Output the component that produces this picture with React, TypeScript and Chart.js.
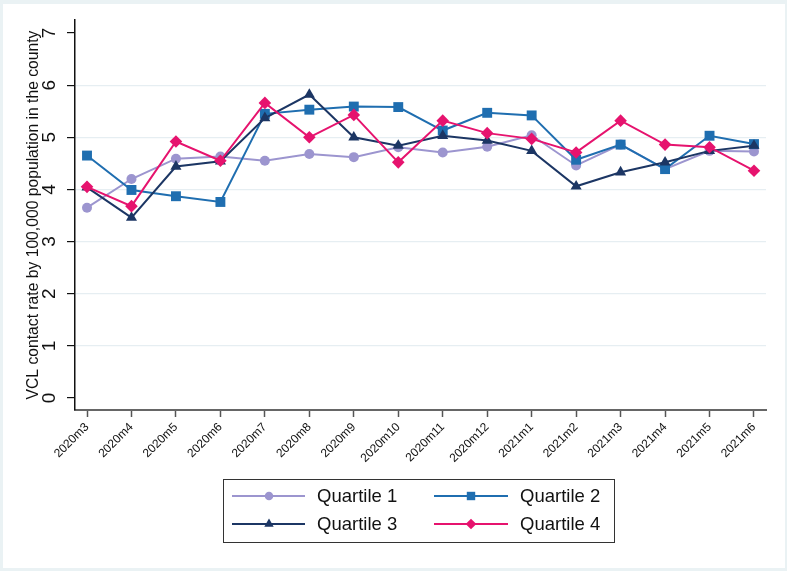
import React, { useEffect, useRef } from "react";
import { Chart, registerables } from "chart.js";

Chart.register(...registerables);

const months = [
  "2020m3", "2020m4", "2020m5", "2020m6", "2020m7", "2020m8", "2020m9", "2020m10",
  "2020m11", "2020m12", "2021m1", "2021m2", "2021m3", "2021m4", "2021m5", "2021m6",
];
const quartile1 = [3.65, 4.2, 4.59, 4.63, 4.55, 4.68, 4.62, 4.81, 4.71, 4.82, 5.04, 4.46, 4.86, 4.39, 4.74, 4.73];
const quartile2 = [4.65, 3.99, 3.87, 3.76, 5.45, 5.53, 5.59, 5.58, 5.13, 5.47, 5.42, 4.57, 4.86, 4.39, 5.03, 4.87];
const quartile3 = [4.04, 3.46, 4.44, 4.54, 5.37, 5.82, 5.0, 4.84, 5.03, 4.94, 4.74, 4.06, 4.33, 4.52, 4.74, 4.84];
const quartile4 = [4.05, 3.68, 4.92, 4.55, 5.66, 5.0, 5.43, 4.52, 5.32, 5.08, 4.97, 4.71, 5.32, 4.86, 4.81, 4.36];
const yTicks = [0, 1, 2, 3, 4, 5, 6, 7];
const seriesNames = ["Quartile 1", "Quartile 2", "Quartile 3", "Quartile 4"];
const yTitle = "VCL contact rate by 100,000 population in the county";

const COLORS = ["#9c95cf", "#1f6eb0", "#1c3664", "#e6136e"];
const SHAPES = ["circle", "rect", "triangle", "rectRot"];
const RADII = [5, 7, 6.4, 6.3];
const FONT = '"Liberation Sans", Arial, Helvetica, sans-serif';

function drawMarker(ctx: CanvasRenderingContext2D, shape: string, x: number, y: number, r: number, color: string) {
  ctx.save();
  ctx.fillStyle = color;
  ctx.beginPath();
  if (shape === "circle") {
    ctx.arc(x, y, r, 0, Math.PI * 2);
  } else if (shape === "rect") {
    const s = r * Math.SQRT1_2;
    ctx.rect(x - s, y - s, 2 * s, 2 * s);
  } else if (shape === "triangle") {
    for (let k = 0; k < 3; k++) {
      const a = (k * 2 * Math.PI) / 3;
      const px = x + Math.sin(a) * r;
      const py = y - Math.cos(a) * r;
      if (k === 0) ctx.moveTo(px, py);
      else ctx.lineTo(px, py);
    }
    ctx.closePath();
  } else {
    ctx.moveTo(x - r, y);
    ctx.lineTo(x, y - r);
    ctx.lineTo(x + r, y);
    ctx.lineTo(x, y + r);
    ctx.closePath();
  }
  ctx.fill();
  ctx.restore();
}

const decorPlugin = {
  id: "decor",
  beforeDraw(chart: any) {
    const ctx = chart.ctx as CanvasRenderingContext2D;
    ctx.save();
    ctx.fillStyle = "#eaf2f4";
    ctx.fillRect(0, 0, chart.width, chart.height);
    ctx.fillStyle = "#ffffff";
    ctx.fillRect(3, 4, 782, 564);
    ctx.restore();
  },
  afterDraw(chart: any) {
    const ctx = chart.ctx as CanvasRenderingContext2D;
    const yScale = chart.scales.y;
    const area = chart.chartArea;
    ctx.save();
    ctx.fillStyle = "#111";
    ctx.textAlign = "center";
    ctx.textBaseline = "middle";
    // y tick labels, rotated
    ctx.font = `19px ${FONT}`;
    for (const v of yTicks) {
      const py = yScale.getPixelForValue(v);
      ctx.save();
      ctx.translate(50, py);
      ctx.rotate(-Math.PI / 2);
      ctx.fillText(String(v), 0, 0);
      ctx.restore();
    }
    // y title
    ctx.font = `15.7px ${FONT}`;
    ctx.save();
    ctx.translate(34, (area.top + area.bottom) / 2);
    ctx.rotate(-Math.PI / 2);
    ctx.fillText(yTitle, 0, 0);
    ctx.restore();

    // legend
    ctx.strokeStyle = "#333";
    ctx.lineWidth = 1;
    ctx.strokeRect(223.5, 479.5, 391, 63);
    const cols = [
      { lx0: 232, lx1: 305, mx: 269, tx: 317 },
      { lx0: 434, lx1: 508, mx: 471, tx: 520 },
    ];
    const rows = [496, 524];
    ctx.font = `18.5px ${FONT}`;
    ctx.textAlign = "left";
    for (let i = 0; i < 4; i++) {
      const c = cols[i % 2];
      const y = rows[Math.floor(i / 2)];
      ctx.strokeStyle = COLORS[i];
      ctx.lineWidth = 1.8;
      ctx.beginPath();
      ctx.moveTo(c.lx0, y);
      ctx.lineTo(c.lx1, y);
      ctx.stroke();
      drawMarker(ctx, SHAPES[i], c.mx, y, RADII[i] * 0.85, COLORS[i]);
      ctx.fillStyle = "#111";
      ctx.fillText(seriesNames[i], c.tx, y + 1);
    }
    ctx.restore();
  },
};

export default function App() {
  const canvasRef = useRef<HTMLCanvasElement | null>(null);

  useEffect(() => {
    const canvas = canvasRef.current;
    if (!canvas) return;
    const series = [quartile1, quartile2, quartile3, quartile4];
    const chart = new Chart(canvas, {
      type: "line",
      data: {
        datasets: series.map((vals, i) => ({
          label: seriesNames[i],
          data: vals.map((y, x) => ({ x, y })),
          borderColor: COLORS[i],
          backgroundColor: COLORS[i],
          borderWidth: 2,
          pointStyle: SHAPES[i] as any,
          pointRadius: RADII[i],
          pointBorderWidth: 0,
          pointBackgroundColor: COLORS[i],
          pointBorderColor: COLORS[i],
          tension: 0,
          fill: false,
          order: 4 - i,
        })),
      },
      options: {
        responsive: false,
        animation: false,
        events: [],
        layout: { autoPadding: false, padding: { top: 20, right: 21, left: 0, bottom: 0 } },
        plugins: { legend: { display: false }, tooltip: { enabled: false } },
        scales: {
          x: {
            type: "linear",
            min: -0.27,
            max: 15.27,
            afterBuildTicks: (scale: any) => {
              scale.ticks = months.map((_, i) => ({ value: i }));
            },
            afterFit: (scale: any) => {
              scale.height = 161;
            },
            ticks: {
              autoSkip: false,
              minRotation: 45,
              maxRotation: 45,
              padding: 3,
              color: "#111",
              font: { family: FONT, size: 12 },
              callback: (v: any) => months[Math.round(Number(v))] ?? "",
            },
            grid: {
              drawOnChartArea: false,
              drawTicks: true,
              tickLength: 7,
              tickColor: "#555",
              tickWidth: 1.5,
            },
            border: { color: "#666", width: 2 },
          },
          y: {
            type: "linear",
            min: -0.23,
            max: 7.25,
            afterBuildTicks: (scale: any) => {
              scale.ticks = yTicks.map((v) => ({ value: v }));
            },
            afterFit: (scale: any) => {
              scale.width = 75;
            },
            ticks: { display: false },
            grid: {
              color: (c: any) => {
                const v = c.tick ? c.tick.value : null;
                return v === 0 || v === 7 ? "rgba(0,0,0,0)" : "#e6eef2";
              },
              lineWidth: 1.2,
              drawTicks: true,
              tickLength: 8,
              tickColor: "#111",
              tickWidth: 1.2,
            },
            border: { color: "#111", width: 1.5 },
          },
        },
      },
      plugins: [decorPlugin],
    } as any);
    return () => chart.destroy();
  }, []);

  return (
    <div style={{ position: "absolute", left: 0, top: 0, width: 787, height: 571 }}>
      <canvas ref={canvasRef} width={787} height={571} style={{ display: "block" }} />
    </div>
  );
}
